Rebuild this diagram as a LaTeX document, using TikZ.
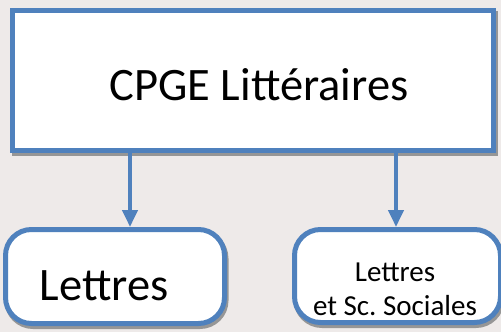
\documentclass[tikz,border=0pt]{standalone}
\usepackage{fontspec}
\setmainfont{Carlito}
\frenchspacing
\usetikzlibrary{arrows.meta, shadows}

\definecolor{bgpaper}{RGB}{238,234,233}
\definecolor{boxblue}{RGB}{79,129,189}
\definecolor{shadowgray}{RGB}{150,150,150}

\tikzset{
  boxshadow/.style={drop shadow={shadow xshift=1.5pt, shadow yshift=-3pt, fill=shadowgray, draw=shadowgray, line width=5pt, opacity=1}},
  bigbox/.style={draw=boxblue, line width=5pt, fill=white, boxshadow},
  roundbox/.style={bigbox, rounded corners=26pt},
  flow/.style={draw=boxblue, line width=4pt, -{Triangle[width=15pt,length=17pt]}},
  bigtext/.style={font=\fontsize{46.5}{56}\selectfont, anchor=base},
  smalltext/.style={font=\fontsize{29}{34}\selectfont, align=center}
}

\begin{document}
\begin{tikzpicture}[x=1pt, y=-1pt]

\fill[bgpaper] (0,0) rectangle (501,332);
\useasboundingbox (0,0) rectangle (501,332);

\node[bigbox, minimum width=481pt, minimum height=140pt] (cpge) at (253,80.5) {};
\node[roundbox, minimum width=219pt, minimum height=94pt] (lettres) at (115,276.5) {};
\node[roundbox, minimum width=206pt, minimum height=93pt] (sociales) at (397.5,276) {};

\node[bigtext] (cpgetxt) at (259,100) {CPGE Littéraires};
\node[bigtext] (lettrestxt) at (104,300) {Lettres};
\node[smalltext] (sociatxt) at (395,289) {Lettres\\et Sc. Sociales};

\draw[flow] ([xshift=15pt]lettres.north |- cpge.south) -- ([xshift=15pt]lettres.north);
\draw[flow] ([xshift=-1.5pt]sociales.north |- cpge.south) -- ([xshift=-1.5pt]sociales.north);

\end{tikzpicture}
\end{document}
